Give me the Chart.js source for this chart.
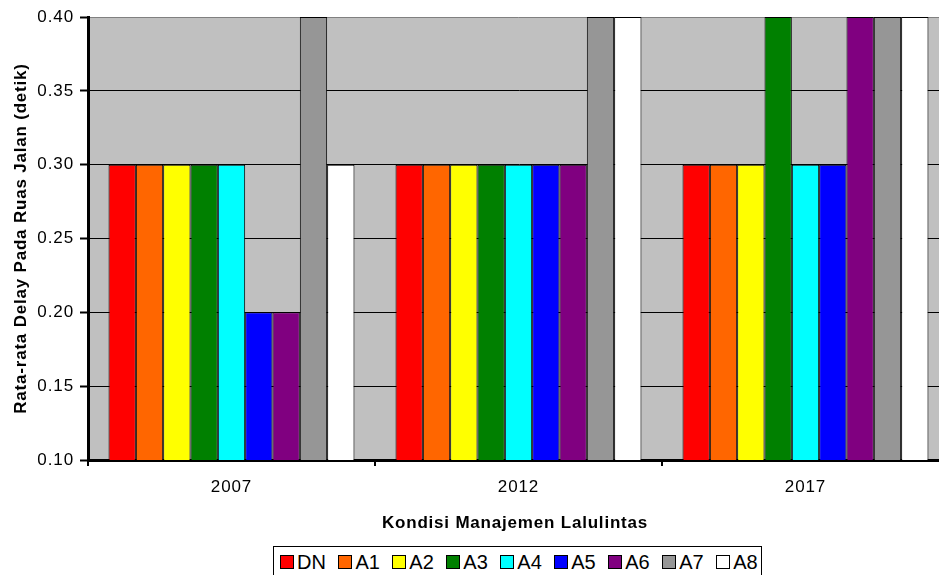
<!DOCTYPE html>
<html>
<head>
<meta charset="utf-8">
<script src="https://cdn.jsdelivr.net/npm/chart.js@4.4.1/dist/chart.umd.min.js"></script>
<style>
    html, body { margin: 0; padding: 0; background: #fff; overflow: hidden; }
    #wrap { position: relative; width: 939px; height: 575px; overflow: hidden; }
    #delayChart { position: absolute; left: 0; top: 0; }
    #legend {
        position: absolute; left: 273px; top: 546px; width: 489px; height: 36px;
        border: 1px solid #000; background: #fff; box-sizing: border-box;
        display: flex; align-items: flex-start; padding: 3px 0 0 6px;
        font-family: 'Liberation Sans', Arial, sans-serif; font-size: 20px; line-height: 24px; color: #000;
    }
    #legend .item { display: flex; align-items: center; margin-right: 12.5px; }
    #legend .box { width: 12px; height: 12px; border: 1px solid #000; margin-right: 3px; }
</style>
</head>
<body>
<div id="wrap">
    <canvas id="delayChart" width="950" height="575"></canvas>
    <div id="legend"></div>
</div>
<script>
// Tahun skenario dan kondisi manajemen lalu lintas
const years = ['2007', '2012', '2017'];
const scenarios = ['DN', 'A1', 'A2', 'A3', 'A4', 'A5', 'A6', 'A7', 'A8'];

// Rata-rata delay (detik) per skenario, urut sesuai tahun
const dnValues = [0.30, 0.30, 0.30];
const a1Values = [0.30, 0.30, 0.30];
const a2Values = [0.30, 0.30, 0.30];
const a3Values = [0.30, 0.30, 0.40];
const a4Values = [0.30, 0.30, 0.30];
const a5Values = [0.20, 0.30, 0.30];
const a6Values = [0.20, 0.30, 0.40];
const a7Values = [0.40, 0.40, 0.40];
const a8Values = [0.30, 0.40, 0.40];

const yTicks = [0.10, 0.15, 0.20, 0.25, 0.30, 0.35, 0.40];

const seriesValues = [dnValues, a1Values, a2Values, a3Values, a4Values, a5Values, a6Values, a7Values, a8Values];
const seriesColors = ['#FF0000', '#FF6600', '#FFFF00', '#008000', '#00FFFF', '#0000FF', '#800080', '#969696', '#FFFFFF'];

const FONT = "'Liberation Sans', Arial, sans-serif";

// Latar abu-abu area plot + jarak huruf sedikit lebih lebar
const plotBackground = {
    id: 'plotBackground',
    beforeDraw(chart) {
        const { ctx, chartArea: a } = chart;
        ctx.letterSpacing = '0.9px';
        ctx.save();
        ctx.fillStyle = '#C0C0C0';
        ctx.fillRect(a.left, a.top, a.right - a.left, a.bottom - a.top);
        ctx.strokeStyle = '#808080';
        ctx.lineWidth = 1;
        ctx.beginPath();
        ctx.moveTo(a.left, a.top + 0.5);
        ctx.lineTo(a.right, a.top + 0.5);
        ctx.stroke();
        ctx.restore();
    }
};

// Judul sumbu digambar manual supaya posisinya pas
const axisTitles = {
    id: 'axisTitles',
    afterDraw(chart) {
        const { ctx, chartArea: a } = chart;
        ctx.save();
        ctx.fillStyle = '#000';
        ctx.font = 'bold 17px ' + FONT;
        ctx.letterSpacing = '0.8px';
        ctx.textAlign = 'center';
        ctx.textBaseline = 'alphabetic';
        ctx.fillText('Kondisi Manajemen Lalulintas', 515, 528);
        ctx.translate(26, (a.top + a.bottom) / 2);
        ctx.rotate(-Math.PI / 2);
        ctx.fillText('Rata-rata Delay Pada Ruas Jalan (detik)', 0, 0);
        ctx.restore();
    }
};

const chart = new Chart(document.getElementById('delayChart'), {
    type: 'bar',
    data: {
        labels: years,
        datasets: scenarios.map((name, i) => ({
            label: name,
            data: seriesValues[i],
            backgroundColor: seriesColors[i],
            borderColor: '#000',
            borderWidth: 1,
            borderSkipped: false,
            categoryPercentage: 0.857,
            barPercentage: 1.0
        }))
    },
    options: {
        responsive: false,
        animation: false,
        layout: { padding: { left: 0, top: 17, right: 1, bottom: 0 } },
        plugins: {
            legend: { display: false },
            tooltip: { enabled: false }
        },
        scales: {
            x: {
                afterFit: (s) => { s.height = 115; },
                grid: {
                    offset: true,
                    drawOnChartArea: false,
                    drawTicks: true,
                    tickLength: 6,
                    color: '#000',
                    lineWidth: 2
                },
                border: { display: true, color: '#000', width: 3 },
                ticks: { color: '#000', padding: 11, font: { family: FONT, size: 17 } }
            },
            y: {
                min: 0.1,
                max: 0.4,
                afterFit: (s) => { s.width = 88; },
                afterBuildTicks: (s) => { s.ticks = yTicks.map(v => ({ value: v })); },
                grid: {
                    color: (c) => (c.tick && c.tick.value > 0.39) ? 'rgba(0,0,0,0)' : '#000',
                    tickColor: '#000',
                    tickWidth: 2,
                    tickLength: 8,
                    lineWidth: 1
                },
                border: { display: true, color: '#000', width: 3 },
                ticks: {
                    color: '#000',
                    padding: 6,
                    font: { family: FONT, size: 17 },
                    callback: (v) => Number(v).toFixed(2)
                }
            }
        }
    },
    plugins: [plotBackground, axisTitles]
});

// Legenda HTML dari dataset
const legendEl = document.getElementById('legend');
chart.data.datasets.forEach(ds => {
    const item = document.createElement('div');
    item.className = 'item';
    item.innerHTML = `<span class="box" style="background:${ds.backgroundColor}"></span><span>${ds.label}</span>`;
    legendEl.appendChild(item);
});
</script>
</body>
</html>
